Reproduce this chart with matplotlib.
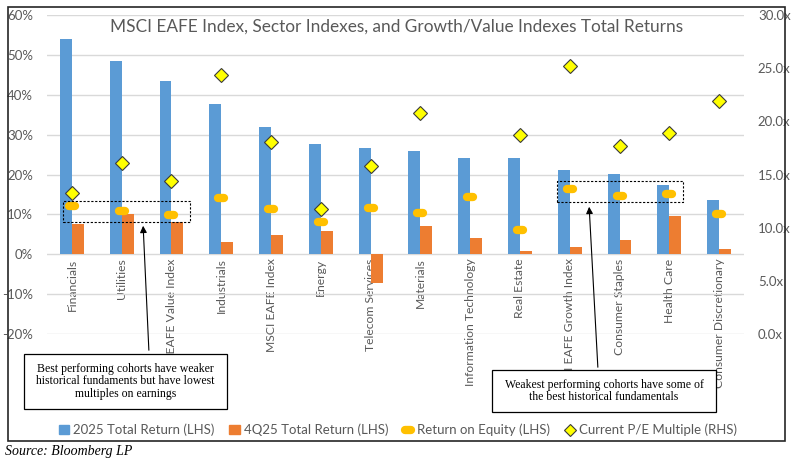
import numpy as np
import matplotlib
matplotlib.use("Agg")
import matplotlib.pyplot as plt
from matplotlib.markers import MarkerStyle
from matplotlib.patches import Patch, Rectangle
from matplotlib.lines import Line2D
from matplotlib.ticker import FuncFormatter

plt.rcParams['font.family'] = ['Lato', 'DejaVu Sans']

categories = ["Financials", "Utilities", "MSCI EAFE Value Index", "Industrials",
              "MSCI EAFE Index", "Energy", "Telecom Services", "Materials",
              "Information Technology", "Real Estate", "MSCI EAFE Growth Index",
              "Consumer Staples", "Health Care", "Consumer Discretionary"]
ret_2025 = [54.1, 48.5, 43.4, 37.8, 31.9, 27.7, 26.7, 25.9, 24.1, 24.1, 21.1, 20.2, 17.4, 13.5]
ret_4q25 = [7.5, 10.0, 8.0, 3.0, 4.8, 5.8, -7.3, 7.0, 4.1, 0.9, 1.8, 3.6, 9.5, 1.3]
roe = [12.0, 10.8, 9.8, 14.1, 11.4, 8.1, 11.6, 10.4, 14.4, 6.1, 16.3, 14.6, 15.2, 10.2]
pe = [13.3, 16.1, 14.4, 24.4, 18.1, 11.8, 15.8, 20.8, np.nan, 18.7, 25.2, 17.7, 18.9, 21.9]

blue = '#5B9BD5'
orange = '#ED7D31'
gold = '#FFC000'
gray = '#595959'

W, H = 795, 463
fig = plt.figure(figsize=(W / 100, H / 100), dpi=100)
ax = fig.add_axes([47 / W, 1 - 334 / H, 697 / W, 319 / H])
ax2 = ax.twinx()

x = np.arange(len(categories))
bw = 0.24
ax.bar(x - bw / 2, ret_2025, bw, color=blue, zorder=2)
ax.bar(x + bw / 2, ret_4q25, bw, color=orange, zorder=2)
roe_marker = MarkerStyle('_', capstyle='round')
ax.plot(x, roe, ls='none', marker=roe_marker, ms=5, mew=6, color=gold, zorder=3)
ax2.plot(x, pe, ls='none', marker='D', ms=7, mfc='#FFFF00', mec='#3a3a3a', mew=0.8, zorder=3)

ax.set_xlim(-0.5, len(categories) - 0.5)
ax.set_ylim(-20, 60)
ax.set_yticks(range(-20, 61, 10))
ax.yaxis.set_major_formatter(FuncFormatter(lambda v, p: f"{v:.0f}%"))
ax2.set_ylim(0, 30)
ax2.set_yticks(range(0, 31, 5))
ax2.yaxis.set_major_formatter(FuncFormatter(lambda v, p: f"{v:.1f}x"))
ax.grid(axis='y', color='#D9D9D9', lw=1, zorder=0)
ax.set_axisbelow(True)
for a in (ax, ax2):
    for s in a.spines.values():
        s.set_visible(False)
ax.spines['bottom'].set_position(('data', 0))
ax.tick_params(axis='y', length=0, pad=10, labelsize=9.5, labelcolor=gray)
ax2.tick_params(axis='y', length=0, pad=10, labelsize=9.5, labelcolor=gray)
ax.set_xticks(x)
ax.set_xticklabels(categories, rotation=90, fontsize=8.7, color=gray)
ax.tick_params(axis='x', length=0, pad=3)

fig.text(397 / W, 1 - 27 / H, "MSCI EAFE Index, Sector Indexes, and Growth/Value Indexes Total Returns",
         ha='center', va='center', fontsize=12.4, color=gray)

# dotted highlight boxes
ax.add_patch(Rectangle((-0.18, 8.0), 2.55, 5.3, fill=False, ls=(0, (2, 1.5)), lw=0.8, ec='black', zorder=4))
ax.add_patch(Rectangle((9.74, 13.0), 2.53, 5.3, fill=False, ls=(0, (2, 1.5)), lw=0.8, ec='black', zorder=4))


def fpx(px, py):
    return (px / W, 1 - py / H)


# annotation boxes
boxes = [((24, 354, 203, 55), "Best performing cohorts have weaker\nhistorical fundaments but have lowest\nmultiples on earnings"),
         ((492, 370, 224, 42), "Weakest performing cohorts have some of\nthe best historical fundamentals")]
for (bx, by, bwid, bht), txt in boxes:
    fig.patches.append(Rectangle(fpx(bx, by + bht), bwid / W, bht / H, transform=fig.transFigure,
                                 fc='white', ec='black', lw=0.9, zorder=5))
    fig.text(*fpx(bx + bwid / 2, by + bht / 2), txt, ha='center', va='center', fontsize=8.5,
             family='Liberation Serif', linespacing=1.1, zorder=6)

ax.annotate('', xy=fpx(143, 223), xycoords='figure fraction', xytext=fpx(149, 353),
            textcoords='figure fraction',
            arrowprops=dict(arrowstyle='-|>', color='black', lw=0.8, mutation_scale=10), zorder=6)
ax.annotate('', xy=fpx(589, 204), xycoords='figure fraction', xytext=fpx(598, 370),
            textcoords='figure fraction',
            arrowprops=dict(arrowstyle='-|>', color='black', lw=0.8, mutation_scale=10), zorder=6)

handles = [Patch(color=blue), Patch(color=orange),
           Line2D([], [], ls='none', marker=roe_marker, ms=5, mew=6, color=gold),
           Line2D([], [], ls='none', marker='D', ms=6, mfc='#FFFF00', mec='#3a3a3a', mew=0.8)]
labels = ["2025 Total Return (LHS)", "4Q25 Total Return (LHS)", "Return on Equity (LHS)",
          "Current P/E Multiple (RHS)"]
leg = fig.legend(handles, labels, loc='center', bbox_to_anchor=fpx(398, 430), ncol=4, frameon=False,
                 fontsize=9.5, handlelength=0.8, handletextpad=0.3, columnspacing=1.1)
for t in leg.get_texts():
    t.set_color(gray)

fig.patches.append(Rectangle(fpx(8, 441), 777 / W, 434 / H, transform=fig.transFigure,
                             fill=False, ec='#262626', lw=1.2, zorder=0))
fig.text(5 / W, 1 - 452 / H, "Source: Bloomberg LP", ha='left', va='center', fontsize=10,
         family='Liberation Serif', style='italic')

fig.savefig('out.png', dpi=100)
